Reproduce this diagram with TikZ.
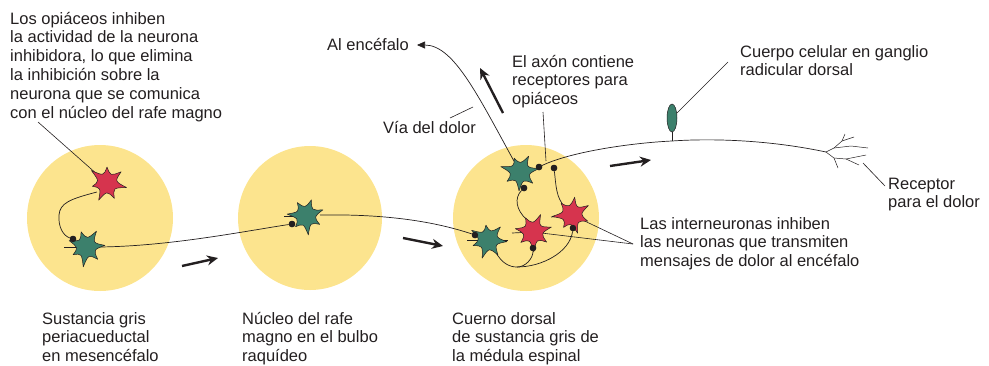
\documentclass[tikz,border=0pt]{standalone}
\usepackage{fontspec}
\setmainfont{Liberation Sans}
\usetikzlibrary{arrows.meta,shapes.geometric}

\definecolor{soma}{RGB}{252,228,142}
\definecolor{inhib}{RGB}{214,52,78}
\definecolor{relay}{RGB}{60,128,108}
\definecolor{ink}{RGB}{35,31,32}

\tikzset{
  region/.style={circle, fill=soma, draw=none, inner sep=0pt},
  fibre/.style={draw=ink, line width=0.7pt},
  twig/.style={draw=ink, line width=0.5pt},
  leader/.style={draw=ink, line width=0.6pt},
  syn/.style={circle, fill=ink, inner sep=0pt, minimum size=6.5pt},
  flow/.style={draw=ink, line width=2.4pt, -{Stealth[length=11pt,width=10pt]}},
  txt/.style={font=\fontsize{16.5}{18.8}\selectfont, text=ink, align=left,
              anchor=north west, inner sep=0pt},
}

% star-shaped cell body: centre, colour, rotation, first tip radius,
% radii of the seven tips (the last one equals the first)
\newcommand{\cellstar}[5]{%
  \begin{scope}[shift={(#1)}, rotate=#3]
    \filldraw[fill=#2, draw=ink, line width=0.5pt, line join=round]
      (0:#4) foreach \r [count=\k] in {#5} {
        .. controls ({(\k-0.5)*360/7}:7.8) and ({(\k-0.5)*360/7}:7.8) .. ({\k*360/7}:\r)
      } -- cycle;
  \end{scope}}

\begin{document}
\begin{tikzpicture}[x=1pt,y=-1pt]
\useasboundingbox (0,0) rectangle (989,365);

% grey-matter regions
\node[region, minimum size=146pt] (c1) at (100,218) {};
\node[region, minimum size=144pt] (c2) at (310,218) {};
\node[region, minimum size=146pt] (c3) at (526,218) {};

% cell body positions
\coordinate (n1r) at (107,183);
\coordinate (n1g) at (86,247);
\coordinate (n2g) at (306,216);
\coordinate (n3g) at (520,172);
\coordinate (n3b) at (488,240);
\coordinate (n3m) at (533,232);
\coordinate (n3r) at (572,215);

% fibre end points
\coordinate (n1r-out) at (97,192);
\coordinate (n1r-bend) at (59,215);
\coordinate (n1g-out) at (100,247);
\coordinate (n1g-in) at (64,247);
\coordinate (n2g-out) at (320,215);
\coordinate (n2g-in) at (284,216);
\coordinate (n3b-in) at (467,240);
\coordinate (n3b-right) at (508,240);
\coordinate (n3b-out) at (495,251);
\coordinate (n3m-in) at (512,233);
\coordinate (n3m-top) at (527,220);
\coordinate (n3r-in) at (551,217);
\coordinate (n3r-top) at (565,207);
\coordinate (fork) at (517,267);
\coordinate (gfoot) at (672,141);
\coordinate (rcp) at (826,152);
\coordinate (brain) at (417,45);

% synapses
\node[syn] (d1) at (73,239) {};
\node[syn] (d2) at (292,224) {};
\node[syn] (d3) at (475,235) {};
\node[syn] (d4) at (539,167) {};
\node[syn] (d5) at (554,168) {};
\node[syn] (d6) at (524,188) {};
\node[syn] (d7) at (533,248) {};
\node[syn] (d8) at (573,228) {};

% dendrite stubs
\draw[fibre] (n1g-in) -- (n1g);
\draw[fibre] (n2g-in) -- (n2g);
\draw[fibre] (n3b-in) -- (n3b-right);
\draw[fibre] (n3m-in) -- (n3m);
\draw[fibre] (n3r-in) -- (n3r);

% axons
\draw[fibre] (n1r-out) .. controls (70,199) and (60,203) .. (n1r-bend)
             .. controls (58,228) and (64,236) .. (d1);
\draw[fibre] (n1g-out) .. controls (170,246) and (240,232) .. (d2);
\draw[fibre] (n2g-out) .. controls (380,214) and (430,220) .. (d3);
\draw[fibre, -{Triangle[length=8pt,width=7pt]}]
      (n3g) .. controls (480,100) and (455,45) .. (brain);
\draw[fibre] (d6) .. controls (514,198) and (516,210) .. (n3m-top);
\draw[fibre] (d5) .. controls (556,185) and (556,198) .. (n3r-top);
\draw[fibre] (n3b-out) .. controls (502,264) and (510,267) .. (fork)
             .. controls (526,267) and (533,258) .. (d7);
\draw[fibre] (fork) .. controls (542,267) and (570,252) .. (d8);

% primary afferent with its ganglion cell body
\draw[fibre] (rcp) .. controls (760,138) and (700,139) .. (gfoot)
             .. controls (630,143) and (570,152) .. (d4);
\node[ellipse, draw=ink, fill=relay, line width=0.5pt, inner sep=0pt,
      minimum width=10pt, minimum height=28pt] (gang) at (672,118) {};
\draw[fibre] (gang.south) -- (gfoot);

% free nerve ending
\draw[twig] (rcp) -- (834,148) -- (842,141) -- (845,134);
\draw[twig] (842,141) -- (854,137);
\draw[twig] (834,148) -- (851,146) -- (868,148);
\draw[twig] (rcp) -- (834,158) -- (838,168);
\draw[twig] (834,158) -- (846,159) -- (859,165);
\draw[twig] (846,159) -- (866,155);

% leader lines
\coordinate (lA) at (38,122);
\coordinate (lAx) at (543,112);
\coordinate (lAxEnd) at (546,161);
\coordinate (lVia) at (450,118);
\coordinate (lViaEnd) at (473,107);
\coordinate (lGang) at (728,62);
\coordinate (lRcp) at (885,186);
\coordinate (lRcpEnd) at (863,163);
\coordinate (lInt) at (633,244);
\draw[leader] (lA) -- (n1r);
\draw[leader] (lAx) -- (lAxEnd);
\draw[leader] (lVia) -- (lViaEnd);
\draw[leader] (lGang) -- (gang);
\draw[leader] (lRcp) -- (lRcpEnd);
\draw[leader] (lInt) -- (n3r);
\draw[leader] (lInt) -- (n3m);

% cell bodies
\cellstar{n1r}{inhib}{-13}{20}{17,19,15,20,16,18,20}
\cellstar{n1g}{relay}{5}{19}{17,20,15,18,16,19,19}
\cellstar{n2g}{relay}{20}{18}{16,19,15,19,16,17,18}
\cellstar{n3g}{relay}{10}{19}{17,19,16,20,15,18,19}
\cellstar{n3b}{relay}{-5}{19}{18,19,16,19,15,18,19}
\cellstar{n3m}{inhib}{15}{19}{17,20,16,18,16,19,19}
\cellstar{n3r}{inhib}{30}{19}{17,19,15,20,16,18,19}

% redraw synapses over the cell bodies
\foreach \d in {d1,d2,d3,d4,d5,d6,d7,d8} \fill[ink] (\d) circle (3.2pt);

% direction of signalling
\coordinate (f1a) at (182,266); \coordinate (f1b) at (218,258);
\coordinate (f2a) at (403,238); \coordinate (f2b) at (443,246);
\coordinate (f3a) at (610,166); \coordinate (f3b) at (651,160);
\coordinate (f4a) at (503,113); \coordinate (f4b) at (480,68);
\draw[flow] (f1a) -- (f1b);
\draw[flow] (f2a) -- (f2b);
\draw[flow] (f3a) -- (f3b);
\draw[flow] (f4a) -- (f4b);

% labels
\node[txt] (tA) at (10,10.8) {\strut Los opiáceos inhiben\\la actividad de la neurona\\inhibidora, lo que elimina\\la inhibición sobre la\\neurona que se comunica\\con el núcleo del rafe magno};
\node[txt] (tBrain) at (327,36.8) {\strut Al encéfalo};
\node[txt] (tAxon) at (512,53.8) {\strut El axón contiene\\receptores para\\opiáceos};
\node[txt] (tVia) at (383,119.8) {\strut Vía del dolor};
\node[txt] (tGang) at (740,43.8) {\strut Cuerpo celular en ganglio\\radicular dorsal};
\node[txt] (tRcp) at (888,175.8) {\strut Receptor\\para el dolor};
\node[txt] (tInt) at (640,215.8) {\strut Las interneuronas inhiben\\las neuronas que transmiten\\mensajes de dolor al encéfalo};
\node[txt] (tC1) at (42,310.8) {\strut Sustancia gris\\periacueductal\\en mesencéfalo};
\node[txt] (tC2) at (242,310.8) {\strut Núcleo del rafe\\magno en el bulbo\\raquídeo};
\node[txt] (tC3) at (452,310.8) {\strut Cuerno dorsal\\de sustancia gris de\\la médula espinal};
\end{tikzpicture}
\end{document}
